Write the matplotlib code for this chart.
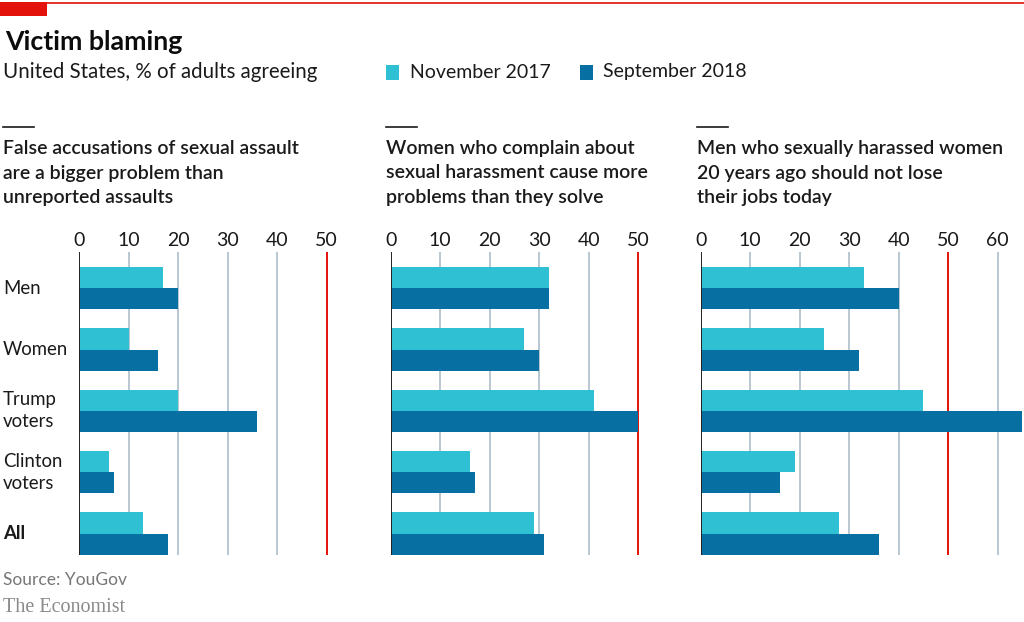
import matplotlib.pyplot as plt
import matplotlib.transforms as mtransforms
from matplotlib.patches import Rectangle
import numpy as np

plt.rcParams['font.family'] = ['Lato', 'DejaVu Sans']

categories = ["Men", "Women", "Trump\nvoters", "Clinton\nvoters", "All"]
titles = [
    ["False accusations of sexual assault", "are a bigger problem than", "unreported assaults"],
    ["Women who complain about", "sexual harassment cause more", "problems than they solve"],
    ["Men who sexually harassed women", "20 years ago should not lose", "their jobs today"],
]
nov_2017 = [
    [17, 10, 20, 6, 13],
    [32, 27, 41, 16, 29],
    [33, 25, 45, 19, 28],
]
sep_2018 = [
    [20, 16, 36, 7, 18],
    [32, 30, 50, 17, 31],
    [40, 32, 65, 16, 36],
]
ticks = [[0, 10, 20, 30, 40, 50], [0, 10, 20, 30, 40, 50], [0, 10, 20, 30, 40, 50, 60]]
xmax = [52, 52, 65]

LIGHT = "#2fc1d3"
DARK = "#076fa1"
GRID = "#b9c7d0"
RED = "#e3120b"

W, H = 1024, 622
fig = plt.figure(figsize=(W / 100, H / 100), dpi=100)

# top red rule and tag
fig.add_artist(plt.Line2D([0, 1], [1 - 3 / H, 1 - 3 / H], color=RED, lw=1.2))
fig.add_artist(Rectangle((0, 1 - 16 / H), 47 / W, 14 / H, color=RED, lw=0))

fig.text(5 / W, 1 - 42 / H, "Victim blaming", fontsize=19.3, fontweight="bold",
         va="center", color="#0c0c0c")
fig.text(3 / W, 1 - 72 / H, "United States, % of adults agreeing", fontsize=14.8,
         va="center", color="#1a1a1a")

# legend
fig.add_artist(Rectangle((386 / W, 1 - 80 / H), 13 / W, 15 / H, color=LIGHT, lw=0))
fig.text(410 / W, 1 - 72 / H, "November 2017", fontsize=14, va="center", color="#1a1a1a")
fig.add_artist(Rectangle((580 / W, 1 - 80 / H), 13 / W, 15 / H, color=DARK, lw=0))
fig.text(603 / W, 1 - 72 / H, "September 2018", fontsize=14, va="center", color="#1a1a1a")

lefts = [79, 390.7, 700.7]
px_per_unit = 4.95
y = np.arange(len(categories))
h = 0.345
ax_bottom = 1 - 555 / H
ax_height = (555 - 252) / H

axes = []
for i in range(3):
    width = xmax[i] * px_per_unit
    ax = fig.add_axes([lefts[i] / W, ax_bottom, width / W, ax_height])
    axes.append(ax)
    for t in ticks[i][1:]:
        ax.axvline(t, color=RED if t == 50 else GRID, lw=1.4, zorder=0)
    ax.barh(y - h / 2, nov_2017[i], height=h, color=LIGHT, zorder=2)
    ax.barh(y + h / 2, sep_2018[i], height=h, color=DARK, zorder=2)
    ax.axvline(0, color="#222222", lw=1.4, zorder=3)
    ax.set_xlim(0, xmax[i])
    ax.set_ylim(4.35, -0.59)
    ax.xaxis.tick_top()
    ax.set_xticks(ticks[i])
    ax.tick_params(axis="x", length=0, pad=2, labelsize=14, labelcolor="#1a1a1a")
    ax.set_yticks([])
    for s in ax.spines.values():
        s.set_visible(False)
    ax.patch.set_alpha(0)

    tx = [3, 386, 697][i]
    fig.add_artist(plt.Line2D([tx / W, (tx + 31) / W], [1 - 127 / H, 1 - 127 / H],
                              color="#1a1a1a", lw=1.2))
    for k, line in enumerate(titles[i]):
        fig.text(tx / W, 1 - (148 + 25 * k) / H, line, fontsize=14, fontweight="semibold",
                 va="center", color="#1a1a1a")

trans = mtransforms.blended_transform_factory(fig.transFigure, axes[0].transData)
for j, cat in enumerate(categories):
    axes[0].text(3 / W, j, cat, transform=trans, ha="left", va="center", fontsize=13.4,
                 linespacing=1.35, color="#1a1a1a",
                 fontweight="bold" if cat == "All" else "normal")

fig.text(3 / W, 1 - 580 / H, "Source: YouGov", fontsize=12.5, va="center", color="#777777")
fig.text(3 / W, 1 - 608 / H, "The Economist", fontsize=14.5, va="center", color="#8a8a8a",
         family=["Liberation Serif", "DejaVu Serif"])

fig.savefig("out.png", dpi=100)
